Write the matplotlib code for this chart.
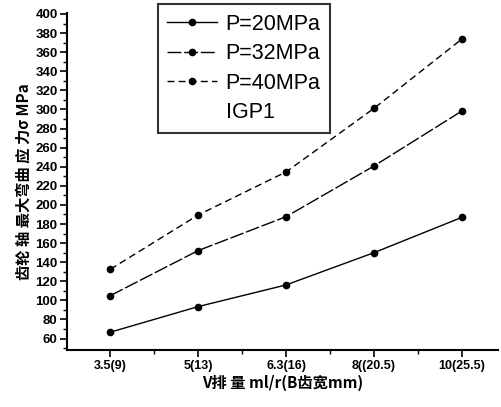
import numpy as np
import matplotlib
matplotlib.use('Agg')
import matplotlib.pyplot as plt
from matplotlib.lines import Line2D
from matplotlib.ticker import MultipleLocator

plt.rcParams['font.family'] = ['Liberation Sans', 'Noto Sans CJK SC', 'DejaVu Sans']

# displacement (tooth width) categories
x_labels = ['3.5(9)', '5(13)', '6.3(16)', '8((20.5)', '10(25.5)']
# max bending stress, MPa
p20 = [66.7, 93.5, 116.2, 150.0, 187.0]
p32 = [105.0, 152.2, 187.7, 240.8, 298.4]
p40 = [132.6, 189.5, 234.6, 301.2, 373.8]
names = ['P=20MPa', 'P=32MPa', 'P=40MPa']
note = 'IGP1'

x = np.arange(len(x_labels))

fig = plt.figure(figsize=(5.02, 4.07), dpi=100)
ax = fig.add_axes([0.134, 0.14, 0.858, 0.828])

styles = ['-', (0, (10, 2)), (0, (5, 3))]
for ys, ls in zip([p20, p32, p40], styles):
    ax.plot(x, ys, color='black', lw=1.0, ls=ls, marker='o', ms=4.5)

ax.set_xlim(-0.49, 4.41)
ax.set_ylim(48, 401)
ax.set_xticks(x)
ax.set_xticklabels(x_labels, fontsize=9, fontweight='bold')
ax.xaxis.set_minor_locator(MultipleLocator(0.5))
ax.yaxis.set_minor_locator(MultipleLocator(10))
ax.set_yticks(np.arange(60, 401, 20))
for t in ax.get_yticklabels():
    t.set_fontsize(9.5)
    t.set_fontweight('bold')

ax.spines['top'].set_visible(False)
ax.spines['right'].set_visible(False)
ax.spines['left'].set_linewidth(1.5)
ax.spines['bottom'].set_linewidth(1.5)
ax.tick_params(which='major', direction='out', length=5, width=1.2, pad=2)
ax.tick_params(which='minor', direction='out', length=3, width=1.0)

ax.set_ylabel('齿轮 轴 最大弯曲 应 力σ MPa', fontsize=11, fontweight='bold',
              family=['Noto Sans CJK SC', 'DejaVu Sans'], labelpad=3)
ax.set_xlabel('V排 量 ml/r(B齿宽mm)', fontsize=11, fontweight='bold',
              family=['Noto Sans CJK SC', 'DejaVu Sans'], labelpad=2)

handles = [Line2D([], [], color='black', lw=1.0, ls=ls, marker='o', ms=4.5) for ls in styles]
handles.append(Line2D([], [], color='none'))
leg = ax.legend(handles, names + [note], loc='upper left', bbox_to_anchor=(0.21, 1.027),
                frameon=True, fancybox=False, edgecolor='black', fontsize=15.5,
                handlelength=2.3, handletextpad=0.4, labelspacing=0.4,
                borderpad=0.45, borderaxespad=0)
leg.get_frame().set_linewidth(1.5)

fig.savefig('out.png', dpi=100)
